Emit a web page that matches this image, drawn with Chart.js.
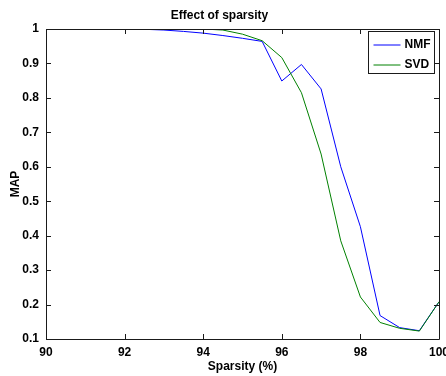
<!DOCTYPE html>
<html>
<head>
<meta charset="utf-8">
<script src="https://cdn.jsdelivr.net/npm/chart.js@4"></script>
<style>
body { margin: 0; background: #fff; }
</style>
</head>
<body>
<canvas id="grafico" width="446" height="376"></canvas>
<script>
// valores
let series = ['NMF', 'SVD'];
let colores = ['#0000ff', '#008000'];

let sparsityNMF = [92.3, 93, 93.5, 94, 94.5, 95, 95.5, 96, 96.5, 97, 97.5, 98, 98.5, 99, 99.5, 100];
let mapNMF = [1.0, 0.997, 0.993, 0.988, 0.981, 0.973, 0.964, 0.849, 0.897, 0.826, 0.60, 0.426, 0.168, 0.133, 0.124, 0.208];

let sparsitySVD = [94, 94.5, 95, 95.5, 96, 96.5, 97, 97.5, 98, 98.5, 99, 99.5, 100];
let mapSVD = [1.0, 0.997, 0.985, 0.966, 0.917, 0.815, 0.637, 0.385, 0.222, 0.148, 0.131, 0.123, 0.208];

let xTicks = [90, 92, 94, 96, 98, 100];
let yTicks = [0.1, 0.2, 0.3, 0.4, 0.5, 0.6, 0.7, 0.8, 0.9, 1];

function armarPuntos(xs, ys) {
    let puntos = [];
    for (let i = 0; i < xs.length; i++) {
        puntos.push({ x: xs[i], y: ys[i] });
    }
    return puntos;
}

// caja, marcas hacia adentro y leyenda estilo matlab
let cajaMatlab = {
    id: 'cajaMatlab',
    afterDatasetsDraw: function(chart) {
        let ctx = chart.ctx;
        let a = chart.chartArea;
        let sx = chart.scales.x;
        let sy = chart.scales.y;
        let largo = 5;
        ctx.save();
        ctx.strokeStyle = '#1a1a1a';
        ctx.lineWidth = 1;
        ctx.beginPath();
        ctx.rect(a.left + 0.5, a.top + 0.5, a.right - a.left, a.bottom - a.top);
        for (let i = 0; i < xTicks.length; i++) {
            let px = Math.round(sx.getPixelForValue(xTicks[i])) + 0.5;
            ctx.moveTo(px, a.bottom);
            ctx.lineTo(px, a.bottom - largo);
            ctx.moveTo(px, a.top);
            ctx.lineTo(px, a.top + largo);
        }
        for (let i = 0; i < yTicks.length; i++) {
            let py = Math.round(sy.getPixelForValue(yTicks[i])) + 0.5;
            ctx.moveTo(a.left, py);
            ctx.lineTo(a.left + largo, py);
            ctx.moveTo(a.right, py);
            ctx.lineTo(a.right - largo, py);
        }
        ctx.stroke();
        ctx.restore();
    },
    afterDraw: function(chart) {
        let ctx = chart.ctx;
        let a = chart.chartArea;
        let cajaX = a.right - 70.5;
        let cajaY = a.top + 2.5;
        ctx.save();
        ctx.fillStyle = '#fff';
        ctx.strokeStyle = '#1a1a1a';
        ctx.lineWidth = 1;
        ctx.fillRect(cajaX, cajaY, 66, 42);
        ctx.strokeRect(cajaX, cajaY, 66, 42);
        ctx.font = 'bold 12px "Liberation Sans", Arial, sans-serif';
        ctx.textBaseline = 'middle';
        ctx.fillStyle = '#000';
        for (let i = 0; i < series.length; i++) {
            let y = Math.round(cajaY + 13 + i * 20);
            ctx.beginPath();
            ctx.strokeStyle = colores[i];
            ctx.lineWidth = 1;
            ctx.moveTo(cajaX + 5, y);
            ctx.lineTo(cajaX + 32, y);
            ctx.stroke();
            ctx.fillText(chart.data.datasets[i].label, cajaX + 36, y);
        }
        ctx.restore();
    }
};

Chart.defaults.font.family = '"Liberation Sans", Arial, sans-serif';
Chart.defaults.font.size = 12;
Chart.defaults.font.weight = 'bold';
Chart.defaults.color = '#000';

let ctx = document.getElementById('grafico');
let grafico = new Chart(ctx, {
    type: 'line',
    data: {
        datasets: [{
            label: series[0],
            data: armarPuntos(sparsityNMF, mapNMF),
            borderColor: colores[0],
            borderWidth: 1,
            pointRadius: 0,
            tension: 0,
            order: 1
        }, {
            label: series[1],
            data: armarPuntos(sparsitySVD, mapSVD),
            borderColor: colores[1],
            borderWidth: 1,
            pointRadius: 0,
            tension: 0,
            order: 0
        }]
    },
    options: {
        responsive: false,
        animation: false,
        layout: { padding: { left: 0, right: 7, top: 0, bottom: 0 } },
        plugins: {
            legend: { display: false },
            tooltip: { enabled: false },
            title: {
                display: true,
                text: 'Effect of sparsity',
                font: { size: 12, weight: 'bold' },
                padding: { top: 8, bottom: 6.6 }
            }
        },
        scales: {
            x: {
                type: 'linear',
                min: 90,
                max: 100,
                grid: { display: false, drawTicks: false },
                border: { display: false },
                afterBuildTicks: function(scale) {
                    scale.ticks = xTicks.map(function(v) { return { value: v }; });
                },
                ticks: {
                    padding: 6,
                    maxRotation: 0,
                    autoSkip: false,
                    callback: function(v) { return String(v); }
                },
                title: {
                    display: true,
                    text: 'Sparsity (%)',
                    font: { size: 12, weight: 'bold' },
                    padding: { top: 0, bottom: 2 }
                },
                afterFit: function(scale) {
                    scale.height = 37;
                    scale.paddingLeft = 0;
                    scale.paddingRight = 0;
                }
            },
            y: {
                type: 'linear',
                min: 0.1,
                max: 1,
                grid: { display: false, drawTicks: false },
                border: { display: false },
                afterBuildTicks: function(scale) {
                    scale.ticks = yTicks.map(function(v) { return { value: v }; });
                },
                ticks: {
                    padding: 7,
                    autoSkip: false,
                    callback: function(v) { return String(Math.round(v * 10) / 10); }
                },
                title: {
                    display: true,
                    text: 'MAP',
                    font: { size: 12, weight: 'bold' },
                    padding: { top: 8, bottom: 0 }
                },
                afterFit: function(scale) {
                    scale.width = 46;
                    scale.paddingTop = 0;
                    scale.paddingBottom = 0;
                }
            }
        }
    },
    plugins: [cajaMatlab]
});
</script>
</body>
</html>
